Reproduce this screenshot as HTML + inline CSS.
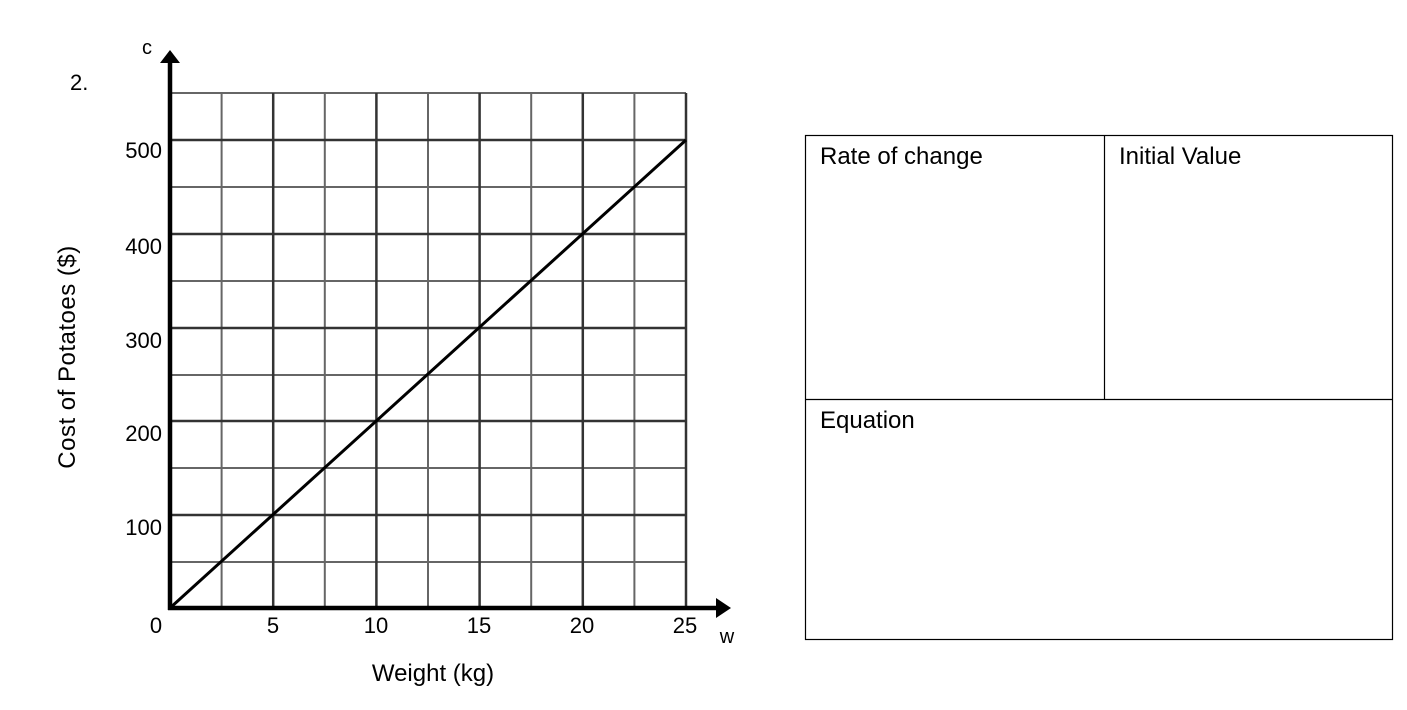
<!DOCTYPE html>
<html><head><style>
body{margin:0;background:#fff;}
svg{display:block;}
</style></head><body>
<svg width="1407" height="710" xmlns="http://www.w3.org/2000/svg" font-family="Liberation Sans, sans-serif">
<rect width="1407" height="710" fill="#fff"/>
<g stroke="#666" stroke-width="2">
<line x1="221.6" y1="93" x2="221.6" y2="608"/>
<line x1="324.8" y1="93" x2="324.8" y2="608"/>
<line x1="428" y1="93" x2="428" y2="608"/>
<line x1="531.2" y1="93" x2="531.2" y2="608"/>
<line x1="634.4" y1="93" x2="634.4" y2="608"/>
<line x1="170" y1="93" x2="686" y2="93"/>
<line x1="170" y1="187" x2="686" y2="187"/>
<line x1="170" y1="281" x2="686" y2="281"/>
<line x1="170" y1="375" x2="686" y2="375"/>
<line x1="170" y1="468" x2="686" y2="468"/>
<line x1="170" y1="562" x2="686" y2="562"/>
</g>
<g stroke="#333" stroke-width="2.5">
<line x1="273.2" y1="93" x2="273.2" y2="608"/>
<line x1="376.4" y1="93" x2="376.4" y2="608"/>
<line x1="479.6" y1="93" x2="479.6" y2="608"/>
<line x1="582.8" y1="93" x2="582.8" y2="608"/>
<line x1="686" y1="93" x2="686" y2="608"/>
<line x1="170" y1="140" x2="686" y2="140"/>
<line x1="170" y1="234" x2="686" y2="234"/>
<line x1="170" y1="328" x2="686" y2="328"/>
<line x1="170" y1="421" x2="686" y2="421"/>
<line x1="170" y1="515" x2="686" y2="515"/>
</g>
<line x1="170" y1="608" x2="686" y2="140" stroke="#000" stroke-width="3"/>
<line x1="170" y1="610" x2="170" y2="60" stroke="#000" stroke-width="4.5"/>
<polygon points="170,50 160,63 180,63" fill="#000"/>
<line x1="168" y1="608" x2="718" y2="608" stroke="#000" stroke-width="4.5"/>
<polygon points="731,608 716,598 716,618" fill="#000"/>
<g font-size="22" fill="#000">
<text x="147" y="54" font-size="20" text-anchor="middle">c</text>
<text x="70" y="90" font-size="22">2.</text>
<text x="162" y="158" text-anchor="end">500</text>
<text x="162" y="254" text-anchor="end">400</text>
<text x="162" y="348" text-anchor="end">300</text>
<text x="162" y="441" text-anchor="end">200</text>
<text x="162" y="535" text-anchor="end">100</text>
<text x="156" y="633" text-anchor="middle">0</text>
<text x="273" y="633" text-anchor="middle">5</text>
<text x="376" y="633" text-anchor="middle">10</text>
<text x="479" y="633" text-anchor="middle">15</text>
<text x="582" y="633" text-anchor="middle">20</text>
<text x="685" y="633" text-anchor="middle">25</text>
<text x="727" y="643" font-size="20" text-anchor="middle">w</text>
<text x="433" y="681" font-size="24" text-anchor="middle">Weight (kg)</text>
<text transform="translate(75,357) rotate(-90)" font-size="24" text-anchor="middle" letter-spacing="0.5">Cost of Potatoes  ($)</text>
</g>
<g stroke="#000" stroke-width="1.2" fill="none">
<rect x="805.5" y="135.5" width="587" height="504"/>
<line x1="805" y1="399.5" x2="1393" y2="399.5"/>
<line x1="1104.5" y1="135" x2="1104.5" y2="399"/>
</g>
<g font-size="24" fill="#000">
<text x="820" y="164">Rate of change</text>
<text x="1119" y="164">Initial Value</text>
<text x="820" y="428">Equation</text>
</g>
</svg>
</body></html>
